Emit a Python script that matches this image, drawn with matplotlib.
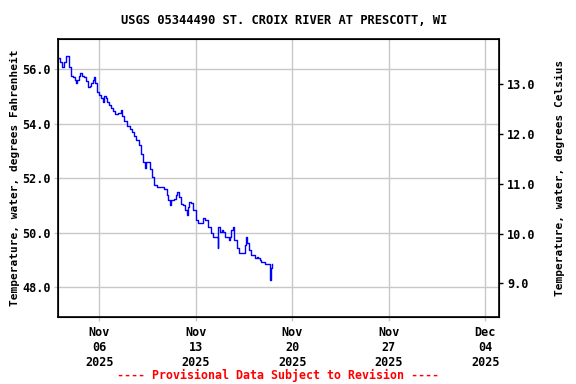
import matplotlib
matplotlib.use("Agg")
import matplotlib.pyplot as plt
import matplotlib.dates as mdates
import pandas as pd

# --- data (water temperature, deg F) ---
times = [
    "2025-11-03 00:00", "2025-11-03 04:00", "2025-11-03 07:00", "2025-11-03 10:00",
    "2025-11-03 14:00", "2025-11-03 17:00", "2025-11-03 19:00", "2025-11-03 22:00",
    "2025-11-04 02:00", "2025-11-04 05:00", "2025-11-04 07:00", "2025-11-04 09:00",
    "2025-11-04 12:00", "2025-11-04 14:00", "2025-11-04 17:00", "2025-11-04 21:00",
    "2025-11-05 01:00", "2025-11-05 04:00", "2025-11-05 07:00", "2025-11-05 09:00",
    "2025-11-05 13:00", "2025-11-05 15:00", "2025-11-05 17:00", "2025-11-05 20:00",
    "2025-11-06 00:00", "2025-11-06 03:00", "2025-11-06 06:00", "2025-11-06 08:00",
    "2025-11-06 11:00", "2025-11-06 14:00", "2025-11-06 17:00", "2025-11-06 21:00",
    "2025-11-07 00:00", "2025-11-07 03:00", "2025-11-07 09:00", "2025-11-07 13:00",
    "2025-11-07 16:00", "2025-11-07 19:00", "2025-11-08 00:00", "2025-11-08 05:00",
    "2025-11-08 09:00", "2025-11-08 13:00", "2025-11-08 16:00", "2025-11-08 21:00",
    "2025-11-09 01:00", "2025-11-09 04:00", "2025-11-09 07:00", "2025-11-09 10:00",
    "2025-11-09 14:00", "2025-11-09 17:00", "2025-11-09 20:00", "2025-11-10 00:00",
    "2025-11-10 04:00", "2025-11-10 12:00", "2025-11-10 16:00", "2025-11-10 21:00",
    "2025-11-11 00:00", "2025-11-11 03:00", "2025-11-11 05:00", "2025-11-11 10:00",
    "2025-11-11 13:00", "2025-11-11 16:00", "2025-11-11 19:00", "2025-11-11 22:00",
    "2025-11-12 02:00", "2025-11-12 05:00", "2025-11-12 09:00", "2025-11-12 11:00",
    "2025-11-12 13:00", "2025-11-12 16:00", "2025-11-12 19:00", "2025-11-13 01:00",
    "2025-11-13 04:00", "2025-11-13 10:00", "2025-11-13 12:00", "2025-11-13 16:00",
    "2025-11-13 21:00", "2025-11-14 03:00", "2025-11-14 06:00", "2025-11-14 12:00",
    "2025-11-14 14:00", "2025-11-14 15:00", "2025-11-14 18:00", "2025-11-14 21:00",
    "2025-11-15 00:00", "2025-11-15 02:00", "2025-11-15 06:00", "2025-11-15 09:00",
    "2025-11-15 11:00", "2025-11-15 14:00", "2025-11-15 16:00", "2025-11-15 19:00",
    "2025-11-15 23:00", "2025-11-16 03:00", "2025-11-16 10:00", "2025-11-16 13:00",
    "2025-11-16 15:00", "2025-11-16 18:00", "2025-11-16 21:00", "2025-11-17 00:00",
    "2025-11-17 07:00", "2025-11-17 10:00", "2025-11-17 13:00", "2025-11-17 16:00",
    "2025-11-17 18:00", "2025-11-18 01:00", "2025-11-18 09:00", "2025-11-18 10:00",
    "2025-11-18 11:00", "2025-11-18 13:00",
]
temp_f = [
    56.40, 56.25, 56.10, 56.25, 56.49, 56.49, 56.07, 55.75,
    55.70, 55.60, 55.49, 55.60, 55.75, 55.85, 55.75, 55.70,
    55.55, 55.36, 55.40, 55.50, 55.62, 55.70, 55.50, 55.18,
    55.05, 54.93, 54.80, 55.00, 54.95, 54.80, 54.69, 54.59,
    54.45, 54.35, 54.38, 54.49, 54.30, 54.11, 53.92, 53.80,
    53.71, 53.55, 53.40, 53.22, 52.90, 52.60, 52.36, 52.60,
    52.58, 52.35, 52.05, 51.75, 51.68, 51.66, 51.60, 51.38,
    51.19, 51.00, 51.19, 51.25, 51.38, 51.50, 51.30, 51.05,
    51.00, 50.83, 50.64, 50.95, 51.11, 51.08, 50.83, 50.46,
    50.34, 50.34, 50.52, 50.45, 50.21, 49.97, 49.85, 49.85,
    49.42, 50.21, 50.03, 50.10, 50.03, 49.85, 49.83, 49.72,
    49.85, 50.09, 50.21, 49.72, 49.42, 49.24, 49.24, 49.54,
    49.82, 49.60, 49.36, 49.17, 49.05, 49.10, 49.05, 49.01,
    48.93, 48.84, 48.84, 48.25, 48.70, 48.84,
]

f_ticks = [48.0, 50.0, 52.0, 54.0, 56.0]
c_ticks = [9.0, 10.0, 11.0, 12.0, 13.0]
date_ticks = ["2025-11-06", "2025-11-13", "2025-11-20", "2025-11-27", "2025-12-04"]

t = pd.to_datetime(times)
font = {"family": "DejaVu Sans Mono", "weight": "bold"}

fig = plt.figure(figsize=(5.76, 3.84), dpi=100)
ax = fig.add_axes([58 / 576, 1 - 316.7 / 384, 441 / 576, 277.4 / 384])

ax.plot(t, temp_f, color="#0000ff", lw=1.0, drawstyle="steps-post")

ax.set_xlim(pd.Timestamp("2025-11-03"), pd.Timestamp("2025-12-05"))
ax.set_ylim(46.91, 57.10)
ax.set_yticks(f_ticks)
ax.set_yticklabels([f"{v:.1f}" for v in f_ticks], **font, fontsize=8.5)
ax.set_xticks(pd.to_datetime(date_ticks))
ax.xaxis.set_major_formatter(mdates.DateFormatter("%b\n%d\n%Y"))
for lab in ax.get_xticklabels():
    lab.set_fontfamily("DejaVu Sans Mono")
    lab.set_fontweight("bold")
    lab.set_fontsize(8.5)
ax.grid(True, color="#c8c8c8", lw=1.0)
ax.tick_params(axis="both", length=3, width=1, color="#c8c8c8", pad=2)
ax.tick_params(axis="x", pad=4)
for s in ax.spines.values():
    s.set_linewidth(1.2)
ax.set_ylabel("Temperature, water, degrees Fahrenheit", **font, fontsize=8, labelpad=2)

ax2 = ax.twinx()
ax2.set_ylim(8.329, 13.905)
ax2.set_yticks(c_ticks)
ax2.set_yticklabels([f"{v:.1f}" for v in c_ticks], **font, fontsize=8.5)
ax2.tick_params(axis="y", length=3, width=1, pad=3)
ax2.set_ylabel("Temperature, water, degrees Celsius", **font, fontsize=8, labelpad=14)

fig.text(0.493, 1 - 20 / 384, "USGS 05344490 ST. CROIX RIVER AT PRESCOTT, WI",
         ha="center", va="center", fontsize=8.7, **font)
fig.text(278 / 576, 1 - 375 / 384, "---- Provisional Data Subject to Revision ----",
         ha="center", va="center", color="red", fontsize=8.4, **font)

fig.savefig("out.png", dpi=100)
